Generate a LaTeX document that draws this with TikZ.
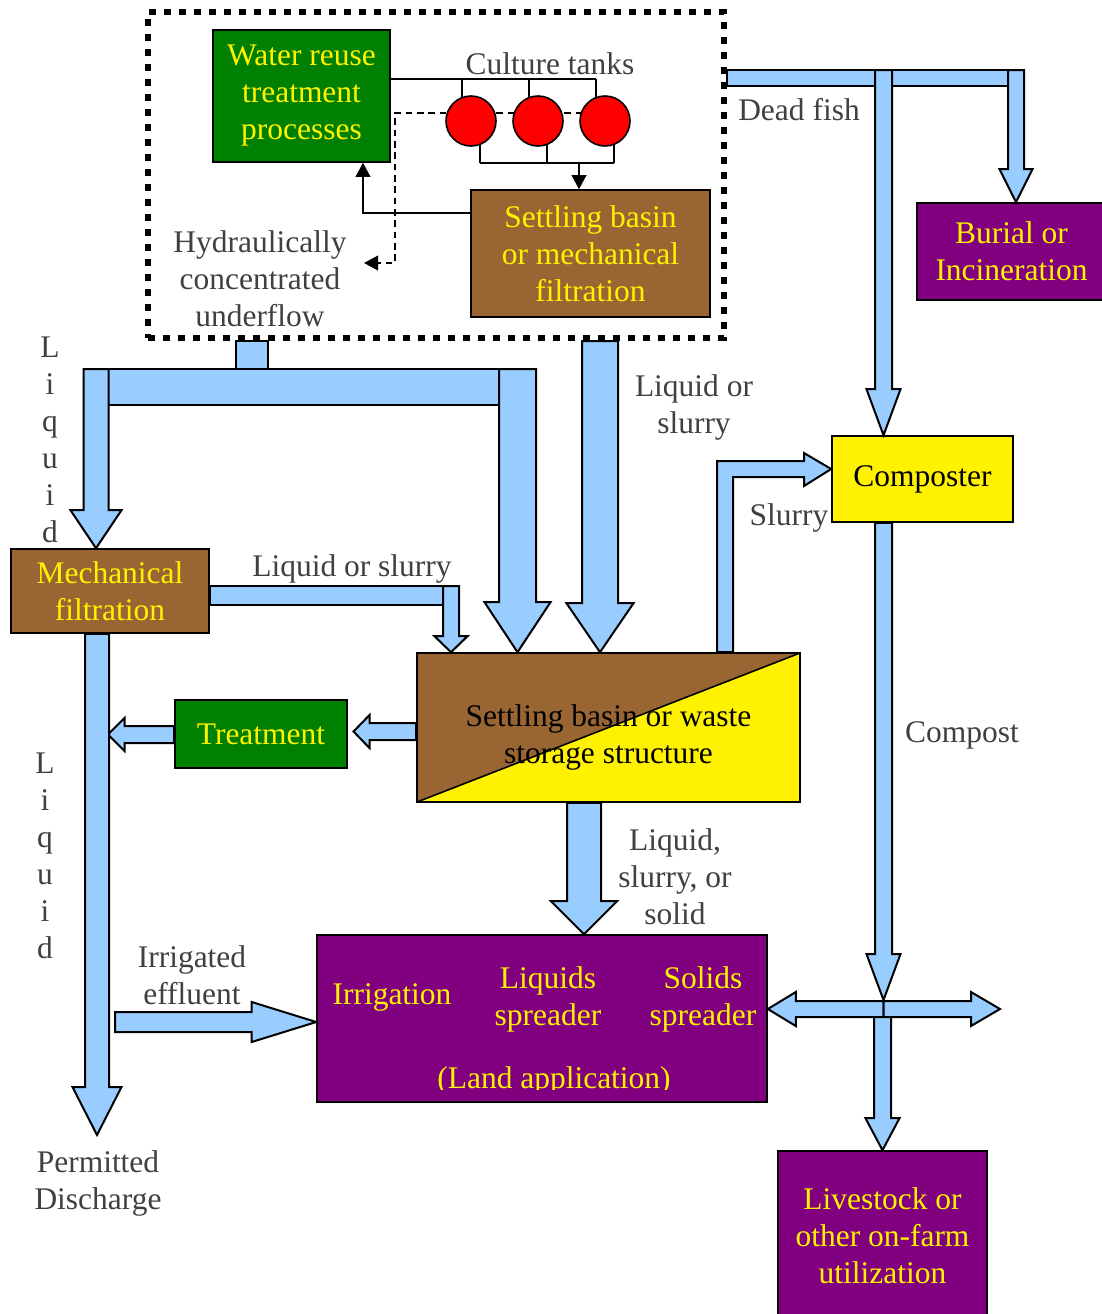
\documentclass[tikz,border=0pt]{standalone}
\usepackage{fontspec}
\setmainfont{Liberation Serif}
\usetikzlibrary{arrows.meta,calc,backgrounds}
\definecolor{flowblue}{HTML}{99CCFF}
\definecolor{basinbrown}{HTML}{996633}
\definecolor{treatgreen}{HTML}{008000}
\definecolor{landpurple}{HTML}{800080}
\definecolor{labelgray}{HTML}{404040}
\tikzset{
  fillbox/.style={draw, line width=1.2pt, align=center, text=yellow, inner sep=0pt},
  tagtext/.style={text=labelgray, align=center, inner sep=0pt},
  pipeline/.style={line width=1.2pt},
  flowarrow/.style={fill=flowblue, draw=black, line width=1.5pt, line join=miter},
  loopframe/.style={draw, line width=4.5pt, dash pattern=on 5.25pt off 6pt, inner sep=0pt},
  tank/.style={circle, draw, fill=red, line width=1.2pt, minimum size=37.5pt, inner sep=0pt},
}
% block arrows: start, tip, shaft half width, head half width, head length (px)
\newcommand{\flowdown}[5]{%
  \filldraw[flowarrow] let \p1=(#1), \p2=(#2) in
    ({\x2-#3*0.75pt},\y1) -- ({\x2-#3*0.75pt},{\y2+#5*0.75pt}) -- ({\x2-#4*0.75pt},{\y2+#5*0.75pt})
    -- (\x2,\y2) -- ({\x2+#4*0.75pt},{\y2+#5*0.75pt}) -- ({\x2+#3*0.75pt},{\y2+#5*0.75pt})
    -- ({\x2+#3*0.75pt},\y1) -- cycle;}
\newcommand{\flowleft}[5]{%
  \filldraw[flowarrow] let \p1=(#1), \p2=(#2) in
    (\x1,{\y2+#3*0.75pt}) -- ({\x2+#5*0.75pt},{\y2+#3*0.75pt}) -- ({\x2+#5*0.75pt},{\y2+#4*0.75pt})
    -- (\x2,\y2) -- ({\x2+#5*0.75pt},{\y2-#4*0.75pt}) -- ({\x2+#5*0.75pt},{\y2-#3*0.75pt})
    -- (\x1,{\y2-#3*0.75pt}) -- cycle;}
\newcommand{\flowright}[5]{%
  \filldraw[flowarrow] let \p1=(#1), \p2=(#2) in
    (\x1,{\y2+#3*0.75pt}) -- ({\x2-#5*0.75pt},{\y2+#3*0.75pt}) -- ({\x2-#5*0.75pt},{\y2+#4*0.75pt})
    -- (\x2,\y2) -- ({\x2-#5*0.75pt},{\y2-#4*0.75pt}) -- ({\x2-#5*0.75pt},{\y2-#3*0.75pt})
    -- (\x1,{\y2-#3*0.75pt}) -- cycle;}
\begin{document}
\begin{tikzpicture}[x=0.75pt,y=-0.75pt,
  every node/.style={font=\fontsize{23.6}{27.75}\selectfont},
  >={Triangle[length=10.5pt,width=11pt]}]
\useasboundingbox (0,0) rectangle (1101,1314);
%% recirculating system
\node[loopframe, minimum width=432pt, minimum height=244.5pt] (system) at (436,175) {};
\node[fillbox, fill=treatgreen, minimum width=132.75pt, minimum height=99pt] (reuse) at (301.5,96) {Water reuse\\treatment\\processes};
\node[fillbox, fill=basinbrown, minimum width=179.25pt, minimum height=95.25pt] (settle) at (590.5,253.5) {Settling basin\\or mechanical\\filtration};
\foreach \i/\cx in {1/471,2/538,3/605}
  \node[tank] (tank\i) at (\cx,121) {};
\node[tagtext] (tanklabel) at (550,64) {Culture tanks};
\node[tagtext] (hcu) at (260,279) {Hydraulically\\concentrated\\underflow};
\coordinate (toprail) at (0,79);
\coordinate (botrail) at (0,163);
\coordinate (drain) at (579,163);
\coordinate (ret) at (363,213);
\coordinate (under) at (395,113);
\coordinate (hcutip) at (364,263);
\begin{scope}[on background layer]
  \draw[pipeline, dash pattern=on 5pt off 3.5pt, ->] (tank3.center |- under) -- (under) |- (hcutip);
\end{scope}
\draw[pipeline] (reuse.east |- toprail) -- (tank3.110 |- toprail);
\draw[pipeline] (tank1.-70 |- botrail) -- (tank3.-70 |- botrail);
\foreach \i in {1,2,3} {
  \draw[pipeline] (tank\i.110) -- (tank\i.110 |- toprail);
  \draw[pipeline] (tank\i.-70) -- (tank\i.-70 |- botrail);
}
\draw[pipeline, ->] (drain) -- (drain |- settle.north);
\draw[pipeline, ->] (settle.west |- ret) -| (reuse.south -| ret);
%% waste handling boxes
\node[fillbox, fill=basinbrown, minimum width=148.5pt, minimum height=63pt] (mech) at (110,591) {Mechanical\\filtration};
\node[fillbox, fill=yellow, text=black, minimum width=287.25pt, minimum height=111.75pt,
  path picture={
    \fill[basinbrown] (path picture bounding box.south west) -- (path picture bounding box.north west)
      -- (path picture bounding box.north east) -- cycle;
    \draw[line width=1.2pt] (path picture bounding box.south west) -- (path picture bounding box.north east);
  },
  label={[name=wastetext, text=black, align=center, yshift=-7.5pt]center:{Settling basin or waste\\storage structure}}] (waste) at (608.5,727.5) {};
\node[fillbox, fill=treatgreen, minimum width=129pt, minimum height=51pt] (treat) at (261,734) {Treatment};
\node[fillbox, fill=yellow, text=black, minimum width=135.75pt, minimum height=64.5pt] (comp) at (922.5,479) {Composter};
\node[fillbox, fill=landpurple, minimum width=141.75pt, minimum height=72.75pt] (burial) at (1011.5,251.5) {Burial or\\Incineration};
\node[fillbox, fill=landpurple, minimum width=156.75pt, minimum height=126.75pt] (live) at (882.5,1235.5) {Livestock or\\other on-farm\\utilization};
\node[fillbox, fill=landpurple, minimum width=337.5pt, minimum height=125.25pt] (land) at (542,1018.5) {};
\node[text=yellow] (irrig) at (392,997) {Irrigation};
\node[text=yellow, align=center] (lspread) at (548,999) {Liquids\\spreader};
\node[text=yellow, align=center] (sspread) at (703,999) {Solids\\spreader};
\begin{scope}
  \clip (317,1040) rectangle (767,1089);
  \node[text=yellow] (landapp) at (554,1081) {(Land application)};
\end{scope}
%% labels
\node[tagtext] (deadfish) at (799,110) {Dead fish};
\node[tagtext] (liqslurry) at (694,407) {Liquid or\\slurry};
\node[tagtext] (slurry) at (789,518) {Slurry};
\node[tagtext] (mechout) at (352,569) {Liquid or slurry};
\node[tagtext] (liquida) at (50,440) {L\\i\\q\\u\\i\\d};
\node[tagtext] (liquidb) at (45,856) {L\\i\\q\\u\\i\\d};
\node[tagtext] (compost) at (962,735) {Compost};
\node[tagtext] (landin) at (675,877) {Liquid,\\slurry, or\\solid};
\node[tagtext] (effluent) at (192,975) {Irrigated\\effluent};
\node[tagtext] (discharge) at (98,1183) {Permitted\\Discharge};
%% flows
\filldraw[flowarrow] (system.south -| 236,0) rectangle (268,370);
\filldraw[flowarrow] (84,369) rectangle (536,405);
\flowdown{96,369}{mech.north -| 96,0}{12.5}{25.5}{38}
\flowdown{517.5,369}{waste.north -| 517.5,0}{18.5}{33}{50}
\flowdown{system.south -| 600,0}{waste.north -| 600,0}{18}{33.5}{49}
\filldraw[flowarrow] (mech.east |- 0,586) rectangle (459,605);
\flowdown{451,586}{waste.north -| 451,0}{8}{16.5}{16}
\filldraw[flowarrow] (waste.north -| 717,0) -- (717,461) -- (804,461) -- (804,453) -- (comp.west |- 0,469)
  -- (804,486) -- (804,477) -- (733,477) -- (waste.north -| 733,0) -- cycle;
\filldraw[flowarrow] (system.east |- 0,70) rectangle (1024,86);
\flowdown{1016,70}{burial.north -| 1016,0}{8}{16.5}{33}
\flowdown{883.5,70}{comp.north -| 883.5,0}{8.5}{17}{46}
\flowdown{comp.south -| 883.5,0}{883.5,1000}{8.5}{17}{46}
\flowleft{883.5,1009}{land.east |- 0,1009}{8}{17}{28}
\flowright{883.5,1009}{1000,1009}{8}{17}{29}
\flowdown{883.5,1017}{live.north}{8.5}{17}{32}
\flowdown{waste.south -| 584,0}{land.north -| 584,0}{17}{33}{33}
\flowleft{waste.west |- 0,731.5}{353.5,731.5}{8.5}{16.5}{16}
\flowleft{treat.west |- 0,734.5}{108,734.5}{8.5}{16.5}{16.5}
\flowdown{mech.south -| 97,0}{97,1135}{12}{24.5}{48}
\flowright{115,1022}{land.west |- 0,1022}{10}{20}{64.5}
\end{tikzpicture}
\end{document}
